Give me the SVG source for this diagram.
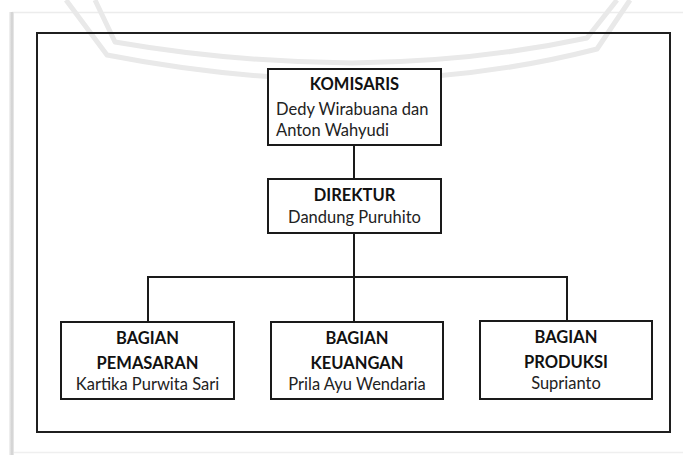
<svg xmlns="http://www.w3.org/2000/svg" width="683" height="455" viewBox="0 0 683 455">
  <defs>
    <linearGradient id="shadowL" x1="0" y1="0" x2="1" y2="0">
      <stop offset="0" stop-color="#f4f4f4"/>
      <stop offset="0.6" stop-color="#cfcfcf"/>
      <stop offset="1" stop-color="#ececec"/>
    </linearGradient>
  </defs>
  <style>
    .box { fill: #ffffff; stroke: #1a1a1a; stroke-width: 2; }
    .frame { fill: none; stroke: #1f1f1f; stroke-width: 2; }
    .line { fill: none; stroke: #1a1a1a; stroke-width: 2; }
    .wm { fill: none; stroke: #e9e9e9; stroke-width: 5; stroke-linejoin: round; }
    .t { font-family: Lato, "Liberation Sans", sans-serif; font-size: 16.5px; fill: #222222; }
    .b { font-weight: bold; fill: #111111; }
    .c { text-anchor: middle; }
  </style>
  <rect x="0" y="0" width="683" height="455" fill="#ffffff"/>
  <!-- page edge -->
  <line x1="12" y1="12.5" x2="683" y2="12.5" stroke="#ececec" stroke-width="1.5"/>
  <line x1="12" y1="452.5" x2="683" y2="452.5" stroke="#efefef" stroke-width="1.5"/>
  <rect x="9" y="12" width="5" height="443" fill="url(#shadowL)"/>
  <!-- watermark -->
  <path class="wm" d="M 95 0 L 115 42 Q 230 62 352 63 Q 475 62 587 38 L 617 0"/>
  <path class="wm" d="M 66 0 L 107 55 Q 230 79 352 80 Q 480 79 597 49 L 630 0"/>
  <!-- outer frame -->
  <rect class="frame" x="37" y="33" width="633" height="399"/>
  <g id="connectors">
    <line class="line" x1="354" y1="145" x2="354" y2="179"/>
    <line class="line" x1="354" y1="233" x2="354" y2="322"/>
    <polyline class="line" points="148,322 148,277 567,277 567,321"/>
  </g>
  <g id="komisaris">
    <rect class="box" x="268" y="69" width="173" height="76"/>
    <text class="t b c" x="354.5" y="90">KOMISARIS</text>
    <text class="t" x="276" y="115">Dedy Wirabuana dan</text>
    <text class="t" x="276" y="136">Anton Wahyudi</text>
  </g>
  <g id="direktur">
    <rect class="box" x="268" y="179" width="173" height="54"/>
    <text class="t b c" x="354.5" y="201">DIREKTUR</text>
    <text class="t c" x="354.5" y="223">Dandung Puruhito</text>
  </g>
  <g id="pemasaran">
    <rect class="box" x="61" y="322" width="173" height="77"/>
    <text class="t b c" x="147.5" y="344">BAGIAN</text>
    <text class="t b c" x="147.5" y="369">PEMASARAN</text>
    <text class="t c" x="147.5" y="390">Kartika Purwita Sari</text>
  </g>
  <g id="keuangan">
    <rect class="box" x="271" y="322" width="172" height="77"/>
    <text class="t b c" x="357" y="344">BAGIAN</text>
    <text class="t b c" x="357" y="369">KEUANGAN</text>
    <text class="t c" x="357" y="390">Prila Ayu Wendaria</text>
  </g>
  <g id="produksi">
    <rect class="box" x="480" y="321" width="172" height="78"/>
    <text class="t b c" x="566" y="343">BAGIAN</text>
    <text class="t b c" x="566" y="368">PRODUKSI</text>
    <text class="t c" x="566" y="389">Suprianto</text>
  </g>
</svg>
